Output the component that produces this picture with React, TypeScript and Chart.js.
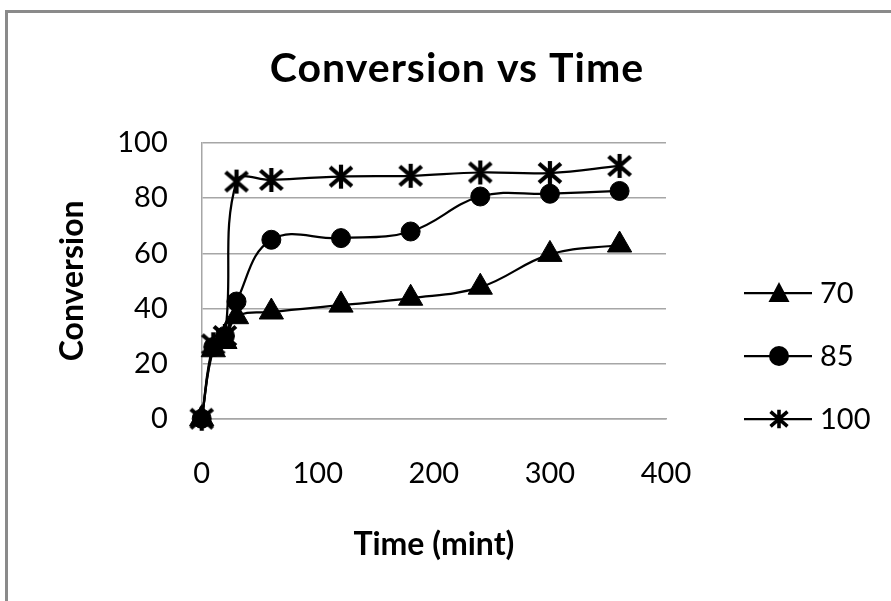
import React, { useEffect, useRef } from 'react';
import { Chart, registerables } from 'chart.js';

Chart.register(...registerables);

const times = [0, 10, 20, 30, 60, 120, 180, 240, 300, 360];
const series70 = [0, 25, 28, 37, 38.7, 41.2, 43.7, 47.7, 59.6, 63];
const series85 = [0, 26, 30, 42.5, 64.9, 65.5, 67.9, 80.6, 81.6, 82.6];
const series100 = [0, 27, 30, 86, 86.6, 87.8, 88.1, 89.3, 89.1, 91.7];
const seriesLabels = ['70', '85', '100'];
const xTicks = [0, 100, 200, 300, 400];
const yTicks = [0, 20, 40, 60, 80, 100];
const titleText = 'Conversion vs Time';
const xTitle = 'Time (mint)';
const yTitle = 'Conversion';

const FONT = 'Lato, "Open Sans", sans-serif';

function makeAsterisk(size: number, lw: number): HTMLCanvasElement {
  const c = document.createElement('canvas');
  c.width = size;
  c.height = size;
  const g = c.getContext('2d')!;
  const m = size / 2;
  const a = size / 2 - lw / 2;
  g.strokeStyle = '#000';
  g.lineWidth = lw;
  g.lineCap = 'butt';
  g.beginPath();
  g.moveTo(m, m - a);
  g.lineTo(m, m + a);
  const dx = a * 0.92;
  const dy = a * 0.8;
  g.moveTo(m - dx, m - dy);
  g.lineTo(m + dx, m + dy);
  g.moveTo(m + dx, m - dy);
  g.lineTo(m - dx, m + dy);
  g.stroke();
  return c;
}

export default function App() {
  const ref = useRef<HTMLCanvasElement | null>(null);

  useEffect(() => {
    if (!ref.current) return;
    const star = makeAsterisk(28, 4.2);
    const starSmall = makeAsterisk(22, 3.6);

    const toPts = (vals: number[]) => times.map((t, i) => ({ x: t, y: vals[i] }));

    const decorPlugin = {
      id: 'decor',
      afterDraw(chart: any) {
        const ctx = chart.ctx as CanvasRenderingContext2D;
        ctx.save();
        // title
        ctx.fillStyle = '#000';
        ctx.font = `bold 41px ${FONT}`;
        (ctx as any).letterSpacing = '1px';
        ctx.textAlign = 'center';
        ctx.textBaseline = 'alphabetic';
        ctx.fillText(titleText, 457, 82);
        (ctx as any).letterSpacing = '0px';
        // legend
        const x0 = 744;
        const x1 = 812;
        const cx = (x0 + x1) / 2 + 1;
        const yStart = 293;
        const step = 63;
        chart.data.datasets.forEach((ds: any, i: number) => {
          const y = yStart + step * i;
          ctx.strokeStyle = '#000';
          ctx.lineWidth = 2.25;
          ctx.beginPath();
          ctx.moveTo(x0, y);
          ctx.lineTo(x1, y);
          ctx.stroke();
          ctx.fillStyle = '#000';
          if (ds.pointStyle === 'triangle') {
            ctx.beginPath();
            ctx.moveTo(cx, y - 11);
            ctx.lineTo(cx + 10.5, y + 9);
            ctx.lineTo(cx - 10.5, y + 9);
            ctx.closePath();
            ctx.fill();
          } else if (ds.pointStyle === 'circle') {
            ctx.beginPath();
            ctx.arc(cx, y, 10, 0, Math.PI * 2);
            ctx.fill();
          } else {
            ctx.drawImage(starSmall, cx - 11, y - 11);
          }
          ctx.font = `29px ${FONT}`;
          ctx.textAlign = 'left';
          ctx.textBaseline = 'middle';
          ctx.fillText(ds.label, 820, y + 1);
        });
        ctx.restore();
      },
    };

    const common = {
      borderColor: '#000',
      backgroundColor: '#000',
      pointBackgroundColor: '#000',
      pointBorderColor: '#000',
      borderWidth: 2.25,
      pointBorderWidth: 1,
      tension: 0.4,
      fill: false,
      clip: false,
    };

    const chart = new Chart(ref.current, {
      type: 'line',
      data: {
        datasets: [
          { ...common, label: seriesLabels[0], data: toPts(series70), pointStyle: 'triangle', pointRadius: 14 },
          { ...common, label: seriesLabels[1], data: toPts(series85), pointStyle: 'circle', pointRadius: 9.5 },
          { ...common, label: seriesLabels[2], data: toPts(series100), pointStyle: star as any, pointRadius: 12 },
        ],
      },
      options: {
        responsive: true,
        maintainAspectRatio: false,
        animation: false,
        layout: { padding: { top: 143, right: 225, left: 0, bottom: 0 } },
        plugins: {
          legend: { display: false },
          title: { display: false },
          tooltip: { enabled: false },
        },
        scales: {
          x: {
            type: 'linear',
            min: 0,
            max: 400,
            afterBuildTicks: (s: any) => {
              s.ticks = xTicks.map((v) => ({ value: v }));
            },
            afterFit: (s: any) => {
              s.height = 601 - 418.7;
            },
            grid: { display: false, drawTicks: false },
            border: { display: true, color: '#a6a6a6', width: 1.5 },
            ticks: { padding: 38, color: '#000', font: { family: FONT, size: 29 }, maxRotation: 0 },
            title: {
              display: true,
              text: xTitle,
              color: '#000',
              font: { family: FONT, size: 32, weight: 'bold' },
              padding: { top: 0, bottom: 37 },
            },
          },
          y: {
            type: 'linear',
            min: 0,
            max: 100,
            afterBuildTicks: (s: any) => {
              s.ticks = yTicks.map((v) => ({ value: v }));
            },
            afterFit: (s: any) => {
              s.width = 201.7;
            },
            grid: { color: '#a6a6a6', lineWidth: 1.5, drawTicks: false },
            border: { display: true, color: '#a6a6a6', width: 1.5 },
            ticks: { padding: 34, color: '#000', font: { family: FONT, size: 29 } },
            title: {
              display: true,
              text: yTitle,
              color: '#000',
              font: { family: FONT, size: 32, weight: 'bold' },
              padding: { top: 53, bottom: 0 },
            },
          },
        },
      } as any,
      plugins: [decorPlugin],
    });
    return () => chart.destroy();
  }, []);

  return (
    <div style={{ position: 'absolute', left: 0, top: 0, width: 891, height: 601, background: '#fff', overflow: 'hidden' }}>
      <div
        style={{
          position: 'absolute',
          left: 5,
          top: 10,
          width: 886,
          height: 591,
          boxSizing: 'border-box',
          borderTop: '3px solid #8a8a8a',
          borderLeft: '3px solid #8a8a8a',
        }}
      />
      <canvas ref={ref} style={{ position: 'absolute', left: 0, top: 0, width: 891, height: 601 }} />
    </div>
  );
}
